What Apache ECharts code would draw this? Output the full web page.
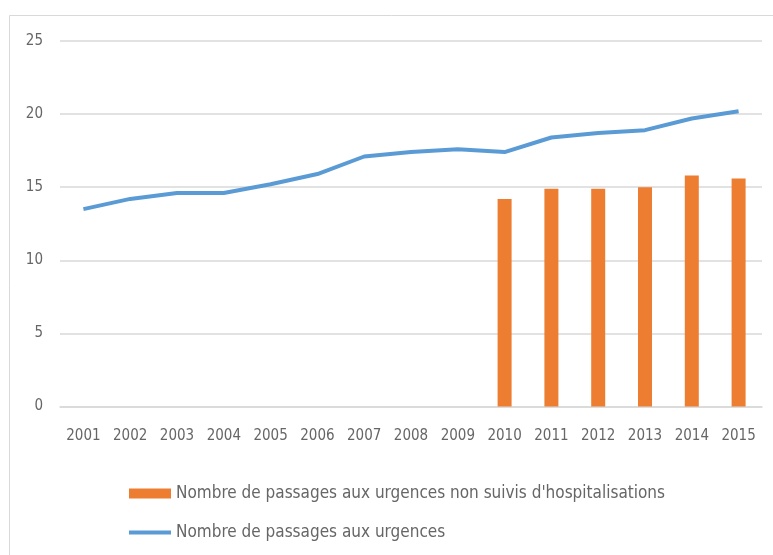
<!DOCTYPE html>
<html>
<head>
<meta charset="utf-8">
<script src="https://cdn.jsdelivr.net/npm/echarts@6/dist/echarts.min.js"></script>
<style>
  html, body { margin: 0; padding: 0; background: #ffffff; }
  #chart { width: 773px; height: 555px; }
</style>
</head>
<body>
<div id="chart"></div>
<script>
// Years on the horizontal axis
const years = ['2001', '2002', '2003', '2004', '2005', '2006', '2007', '2008',
  '2009', '2010', '2011', '2012', '2013', '2014', '2015'];

// Emergency visits not followed by hospitalisation (millions), recorded from 2010
const nonHospitalises = [null, null, null, null, null, null, null, null, null,
  14.2, 14.9, 14.9, 15.0, 15.8, 15.6];

// Total emergency visits (millions)
const passagesTotal = [13.5, 14.2, 14.6, 14.6, 15.2, 15.9, 17.1, 17.4, 17.6,
  17.4, 18.4, 18.7, 18.9, 19.7, 20.2];

const nameBars = "Nombre de passages aux urgences non suivis d'hospitalisations";
const nameLine = 'Nombre de passages aux urgences';

const FONT = '"DejaVu Sans Condensed", "Liberation Sans Narrow", sans-serif';
const TEXT_COLOR = '#666666';

const chart = echarts.init(document.getElementById('chart'), null, { renderer: 'canvas' });

chart.setOption({
  backgroundColor: '#ffffff',
  animation: false,
  graphic: [{
    type: 'rect',
    left: 7, top: 13,
    shape: { width: 820, height: 600 },
    style: { fill: 'none', stroke: '#d9d9d9', lineWidth: 1 },
    silent: true,
    z: -1
  }],
  grid: { left: 60, right: 11, top: 41, bottom: 148.5, containLabel: false },
  legend: {
    orient: 'vertical',
    left: 124,
    top: 480,
    itemGap: 22,
    itemWidth: 42,
    itemHeight: 10,
    symbolKeepAspect: true,
    textStyle: { fontFamily: FONT, fontSize: 17, color: TEXT_COLOR },
    data: [
      { name: nameBars, icon: 'rect' },
      // thin bar icon standing for the line series
      { name: nameLine, icon: 'path://M0,0H42V4H0Z' }
    ]
  },
  xAxis: {
    type: 'category',
    data: years,
    axisLine: { show: true, lineStyle: { color: '#d9d9d9', width: 1.5 } },
    axisTick: { show: false },
    axisLabel: { interval: 0, fontFamily: FONT, fontSize: 15, color: TEXT_COLOR, margin: 22 }
  },
  yAxis: {
    type: 'value',
    min: 0, max: 25, interval: 5,
    axisLine: { show: false },
    axisTick: { show: false },
    splitLine: { lineStyle: { color: '#d9d9d9', width: 1.5 } },
    axisLabel: { fontFamily: FONT, fontSize: 15, color: TEXT_COLOR, margin: 17 }
  },
  series: [
    {
      name: nameBars,
      type: 'bar',
      data: nonHospitalises,
      barWidth: 14,
      itemStyle: { color: '#ed7d31' }
    },
    {
      name: nameLine,
      type: 'line',
      data: passagesTotal,
      symbol: 'none',
      lineStyle: { color: '#5b9bd5', width: 4 },
      itemStyle: { color: '#5b9bd5' }
    }
  ]
});
</script>
</body>
</html>
